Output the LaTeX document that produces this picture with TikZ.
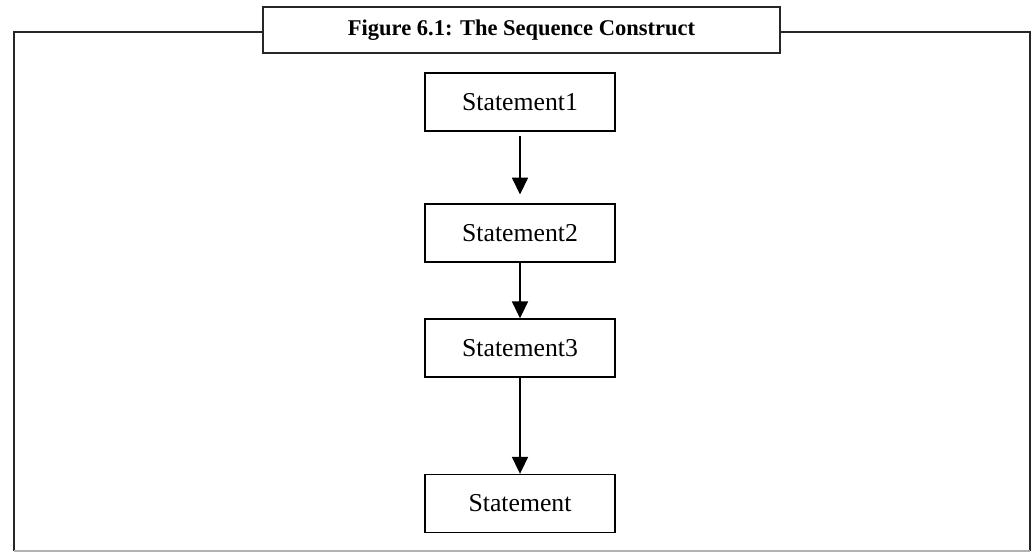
\documentclass[tikz,border=0pt]{standalone}
\usepackage{fontspec}
\setmainfont{Liberation Serif}
\usepackage{tikz}
\usetikzlibrary{arrows.meta, shapes.geometric}

\begin{document}
\begin{tikzpicture}[x=0.025cm, y=-0.025cm,
                    stmt/.style={draw=black!100, line width=1pt, minimum width=4.75cm, minimum height=1.45cm, inner sep=0pt, font=\fontsize{18.3}{21}\selectfont},
                    flow/.style={draw=black!100, line width=0.9pt, -{Triangle[length=0.42cm, width=0.4cm]}},
                    frameline/.style={draw=black!85, line width=2pt}]
                    \useasboundingbox (0, 0) rectangle (1034, 552);

                    \node[draw=black!85, line width=2pt, minimum width=12.925cm, minimum height=1.15cm, inner sep=0pt, font=\bfseries\fontsize{16}{19}\selectfont] (title) at (521.5, 30) {Figure 6.1: The Sequence Construct};

                    \coordinate (tl) at (14, 32);
                    \coordinate (tr) at (1030, 32);
                    \coordinate (bl) at (14, 551);
                    \coordinate (br) at (1030, 551);
                    \draw[frameline] (title.west |- tl) -- (tl) -- (bl);
                    \draw[frameline] (title.east |- tr) -- (tr) -- (br);
                    \draw[color = black!30, line width=1pt] (bl) -- (br);

                    \node[stmt] (s1) at (520, 102) {Statement1};
                    \node[stmt] (s2) at (520, 233) {Statement2};
                    \node[stmt] (s3) at (520, 348) {Statement3};
                    \node[stmt] (s4) at (520, 503.5) {Statement};

                    \draw[flow, shorten <=0.1cm, shorten >=0.22cm] (s1) -- (s2);
                    \draw[flow] (s2) -- (s3);
                    \draw[flow] (s3) -- (s4);
                \end{tikzpicture}
\end{document}
